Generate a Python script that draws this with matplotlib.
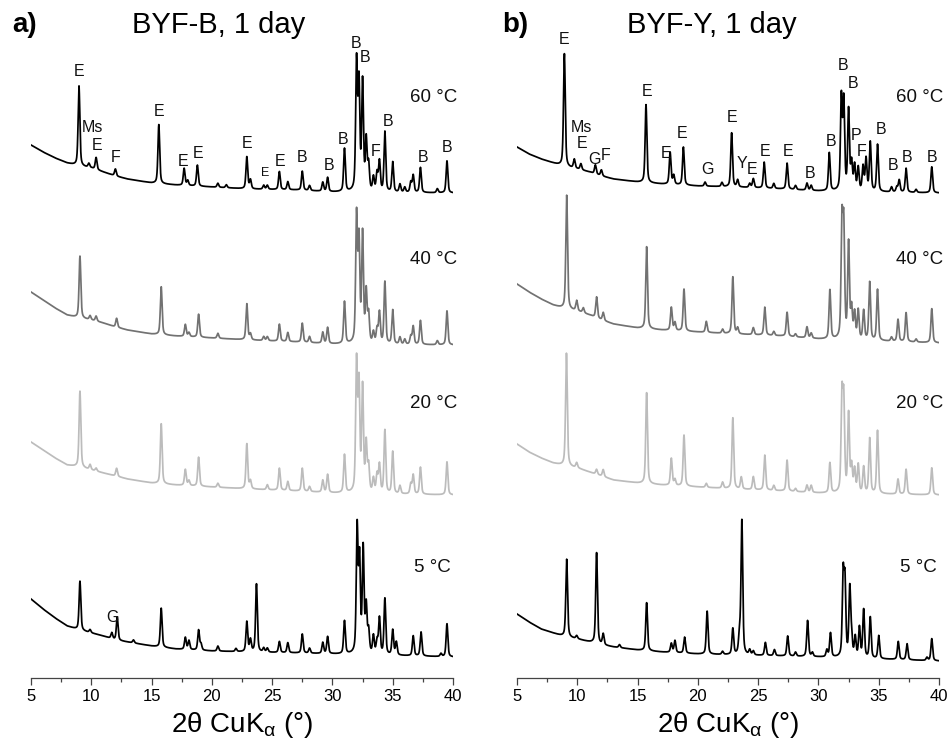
import numpy as np
import matplotlib
matplotlib.use("Agg")
import matplotlib.pyplot as plt
from matplotlib.ticker import MultipleLocator

plt.rcParams['font.family'] = ['Liberation Sans', 'DejaVu Sans']
plt.rcParams['mathtext.fontset'] = 'custom'
plt.rcParams['mathtext.rm'] = 'Liberation Sans'
plt.rcParams['mathtext.it'] = 'Liberation Sans:italic'

# ---------------- data ----------------
BG_X = [5, 6, 7, 8, 9, 10, 11, 12, 13, 15, 17, 20, 23, 27, 30, 40]

# Panel a) BYF-B
A60_BG = [48, 41, 35, 30, 27, 25, 21, 17, 14, 10, 8, 6, 4, 3, 1, 0]
A60_POS = [8.98, 9.8, 10.4, 12.0, 15.6, 17.7, 18.0, 18.8, 20.5, 21.2, 22.9, 23.2, 24.3, 24.6,
           25.6, 26.3, 27.5, 28.1, 29.2, 29.6, 31.0, 32.0, 32.2, 32.5, 32.8, 33.0, 33.4, 33.7,
           33.9, 34.35, 35.0, 35.6, 36.0, 36.5, 36.7, 37.3, 38.7, 39.5]
A60_AMP = [80, 4, 12, 7, 59, 17, 5, 21, 4, 3, 32, 9, 4, 4,
           18, 8, 19, 5, 9, 14, 43, 128, 105, 108, 50, 26, 14, 18,
           30, 60, 30, 8, 5, 10, 17, 25, 4, 32]

A40_BG = [53, 45, 37, 30, 27, 25, 22, 18, 15, 11, 9, 7, 5, 3, 1, 0]
A40_POS = [9.06, 9.9, 10.4, 12.1, 15.8, 17.8, 18.1, 18.9, 20.5, 22.9, 23.2, 24.3, 24.6,
           25.6, 26.3, 27.5, 28.1, 29.2, 29.6, 31.0, 32.0, 32.2, 32.5, 32.8, 33.0, 33.4, 33.7,
           33.9, 34.35, 35.0, 35.6, 36.0, 36.5, 36.7, 37.3, 38.7, 39.5]
A40_AMP = [62, 4, 5, 9, 48, 12, 4, 23, 5, 36, 6, 4, 4,
           17, 9, 19, 6, 11, 16, 42, 126, 100, 108, 50, 28, 11, 14,
           31, 62, 34, 7, 5, 8, 18, 24, 4, 34]

A20_BG = [53, 45, 37, 30, 28, 25, 22, 19, 16, 12, 10, 8, 6, 4, 2, 0]
A20_POS = [9.06, 9.9, 10.4, 12.1, 15.8, 17.8, 18.1, 18.9, 20.5, 22.9, 23.2, 24.6,
           25.6, 26.3, 27.5, 28.1, 29.2, 29.6, 31.0, 32.0, 32.2, 32.5, 32.8, 33.0, 33.4, 33.7,
           33.9, 34.35, 35.0, 35.6, 36.5, 36.7, 37.3, 39.5]
A20_AMP = [76, 5, 3, 8, 60, 16, 5, 29, 4, 45, 8, 5,
           22, 9, 23, 5, 12, 18, 38, 129, 105, 104, 48, 26, 14, 18,
           28, 63, 42, 8, 10, 19, 27, 33]

A5_BG = [58, 48, 39, 31, 27, 24, 21, 17, 15, 11, 8, 6, 5, 4, 3, 0]
A5_POS = [9.06, 9.9, 11.7, 12.15, 13.5, 15.8, 17.8, 18.1, 18.9, 19.1, 20.5, 22.0, 22.9, 23.2,
          23.7, 24.3, 24.6, 25.6, 26.3, 27.5, 28.1, 29.2, 29.6, 31.0, 32.05, 32.25, 32.55,
          32.8, 33.0, 33.4, 33.7, 33.9, 34.35, 35.0, 35.3, 36.7, 37.35, 39.0, 39.5]
A5_AMP = [49, 3, 6, 23, 3, 39, 12, 9, 20, 6, 5, 3, 30, 12,
          68, 4, 4, 11, 10, 19, 5, 11, 17, 33, 125, 92, 104,
          46, 22, 18, 13, 36, 56, 25, 13, 20, 24, 3, 33]

# Panel b) BYF-Y
B60_BG = [46, 39, 34, 30, 26, 24, 21, 17, 14, 11, 9, 7, 6, 4, 2, 0]
B60_POS = [8.93, 9.75, 10.3, 11.5, 12.0, 15.7, 17.7, 18.0, 18.8, 20.6, 22.0, 22.8, 23.3,
           24.3, 24.6, 25.5, 26.3, 27.4, 28.1, 29.05, 29.4, 30.9, 31.9, 32.1, 32.5, 32.75,
           33.0, 33.3, 33.7, 33.95, 34.3, 34.9, 36.06, 36.5, 36.7, 37.27, 38.1, 39.4]
B60_AMP = [113, 9, 6, 9, 6, 78, 32, 9, 38, 4, 4, 54, 7,
           4, 9, 26, 5, 26, 4, 7, 5, 38, 92, 88, 80, 27,
           25, 23, 24, 32, 49, 47, 5, 5, 12, 24, 3, 26]

B40_BG = [59, 51, 44, 38, 34, 32, 28, 23, 19, 15, 13, 11, 9, 7, 4, 0]
B40_POS = [9.12, 9.95, 10.5, 11.6, 12.15, 15.75, 17.8, 18.1, 18.85, 20.7, 22.05, 22.9, 23.3,
           24.6, 25.55, 26.3, 27.4, 28.1, 29.05, 29.4, 30.95, 31.95, 32.1, 32.5, 32.75, 33.0,
           33.3, 33.75, 34.25, 34.9, 36.06, 36.6, 37.27, 38.1, 39.4]
B40_AMP = [114, 10, 5, 21, 8, 82, 23, 8, 42, 11, 4, 57, 6,
           7, 28, 4, 24, 3, 11, 5, 49, 112, 107, 95, 30, 26,
           29, 29, 58, 51, 4, 22, 29, 3, 34]

B20_BG = [51, 43, 37, 32, 29, 27, 23, 19, 15, 12, 10, 8, 6, 4, 2, 0]
B20_POS = [9.1, 9.95, 11.6, 12.15, 15.75, 17.8, 18.1, 18.85, 20.7, 22.05, 22.9, 23.6, 24.6,
           25.55, 26.3, 27.4, 28.1, 29.05, 29.4, 30.95, 31.95, 32.1, 32.5, 32.75, 33.0, 33.3,
           33.75, 34.25, 34.9, 36.6, 37.27, 39.4]
B20_AMP = [113, 5, 5, 7, 91, 27, 6, 51, 4, 6, 71, 12, 13,
           35, 5, 31, 3, 7, 7, 30, 93, 88, 78, 26, 23, 28,
           26, 55, 63, 15, 25, 27]

B5_BG = [47, 39, 32, 28, 24, 22, 19, 16, 14, 11, 9, 7, 6, 5, 4, 0]
B5_POS = [9.12, 9.95, 11.6, 12.15, 13.5, 15.75, 17.8, 18.1, 18.9, 20.77, 22.05, 22.9, 23.45,
          23.65, 24.3, 24.6, 25.6, 26.35, 27.45, 28.1, 29.1, 29.5, 30.7, 31.0, 32.05, 32.2,
          32.6, 32.75, 33.05, 33.4, 33.75, 34.3, 35.0, 36.62, 37.35, 39.0, 39.4]
B5_AMP = [78, 3, 91, 11, 3, 48, 9, 12, 16, 43, 3, 26, 18,
          134, 5, 4, 13, 6, 20, 4, 36, 4, 7, 24, 80, 72,
          68, 18, 20, 30, 48, 41, 23, 18, 16, 3, 22]

TEMPS = ["60 °C", "40 °C", "20 °C", "5 °C"]
OFFSETS_A = [485, 333, 183, 21]
OFFSETS_B = [485, 335, 183, 17]
COLORS = ["#000000", "#727272", "#bcbcbc", "#000000"]
TEMP_LABEL_Y = [580, 418, 275, 111]
TEMP_LABEL_X = [40.33, 40.33, 40.33, 39.83]

LABELS_A = [(8.98, 607, "E"), (10.06, 550, "Ms"), (10.47, 533, "E"), (12.05, 521, "F"),
            (15.62, 566, "E"), (17.61, 516, "E"), (18.85, 525, "E"), (22.91, 534, "E"),
            (25.65, 517, "E"), (27.48, 521, "B"), (29.72, 512, "B"), (30.88, 538, "B"),
            (31.96, 634, "B"), (32.70, 621, "B"), (33.61, 526, "F"), (34.61, 557, "B"),
            (37.51, 520, "B"), (39.50, 531, "B"), (11.72, 61, "G")]
SMALL_LABELS_A = [(24.41, 505, "E")]
LABELS_B = [(8.90, 639, "E"), (10.31, 551, "Ms"), (10.39, 534, "E"), (11.40, 519, "G"),
            (12.32, 522, "F"), (15.78, 587, "E"), (17.36, 525, "E"), (18.69, 545, "E"),
            (20.76, 509, "G"), (22.83, 560, "E"), (23.66, 514, "Y"), (24.49, 509, "E"),
            (25.57, 527, "E"), (27.48, 526, "E"), (29.30, 505, "B"), (31.04, 536, "B"),
            (32.04, 613, "B"), (32.87, 595, "B"), (33.12, 543, "P"), (33.61, 527, "F"),
            (35.19, 548, "B"), (36.19, 513, "B"), (37.35, 520, "B"), (39.42, 520, "B")]

PANEL_A = [(A60_BG, A60_POS, A60_AMP), (A40_BG, A40_POS, A40_AMP),
           (A20_BG, A20_POS, A20_AMP), (A5_BG, A5_POS, A5_AMP)]
PANEL_B = [(B60_BG, B60_POS, B60_AMP), (B40_BG, B40_POS, B40_AMP),
           (B20_BG, B20_POS, B20_AMP), (B5_BG, B5_POS, B5_AMP)]

# ---------------- drawing ----------------
FWHM = 0.17
ETA = 0.5
tt = np.linspace(5, 40, 3501)


def pattern(bg, pos, amp):
    y = np.interp(tt, BG_X, bg).astype(float)
    hw = FWHM / 2.0
    for p, a in zip(pos, amp):
        d = (tt - p) / hw
        lor = 1.0 / (1.0 + d * d)
        gau = np.exp(-np.log(2) * d * d)
        y += a * (ETA * lor + (1 - ETA) * gau)
    return y


fig = plt.figure(figsize=(9.49, 7.49), dpi=100)
W, H = 949.0, 749.0
ax_a = fig.add_axes([31 / W, (H - 678) / H, 422 / W, 648 / H])
ax_b = fig.add_axes([517 / W, (H - 678) / H, 422 / W, 648 / H])

for ax, panel, offs, labels in [(ax_a, PANEL_A, OFFSETS_A, LABELS_A),
                                (ax_b, PANEL_B, OFFSETS_B, LABELS_B)]:
    for (bg, pos, amp), off, col in zip(panel, offs, COLORS):
        ax.plot(tt, pattern(bg, pos, amp) + off, color=col, lw=1.25)
    for tx, ty, tlab in zip(TEMP_LABEL_X, TEMP_LABEL_Y, TEMPS):
        ax.text(tx, ty, tlab, ha='right', va='center', fontsize=13.5, color='#111111')
    for x, y, s in labels:
        ax.text(x, y, s, ha='center', va='center', fontsize=11.5, color='#111111')
    ax.set_xlim(5, 40)
    ax.set_ylim(0, 648)
    for sp in ['left', 'right', 'top']:
        ax.spines[sp].set_visible(False)
    ax.spines['bottom'].set_color('#444444')
    ax.spines['bottom'].set_linewidth(0.9)
    ax.set_yticks([])
    ax.xaxis.set_major_locator(MultipleLocator(5))
    ax.xaxis.set_minor_locator(MultipleLocator(2.5))
    ax.tick_params(axis='x', which='major', direction='out', length=5, width=0.9,
                   color='#444444', labelsize=12, pad=3)
    ax.tick_params(axis='x', which='minor', direction='out', length=3, width=0.9,
                   color='#444444')
    ax.set_xlabel(r"2θ CuK$_{\mathrm{α}}$ (°)", fontsize=20, labelpad=4)
    ax.patch.set_alpha(0)

for x, y, s in SMALL_LABELS_A:
    ax_a.text(x, y, s, ha='center', va='center', fontsize=9, color='#111111')

fig.text(12 / W, 1 - 25 / H, "a)", fontsize=20, fontweight='bold', ha='left', va='center')
fig.text(219 / W, 1 - 25 / H, "BYF-B, 1 day", fontsize=21, ha='center', va='center')
fig.text(502 / W, 1 - 25 / H, "b)", fontsize=20, fontweight='bold', ha='left', va='center')
fig.text(712 / W, 1 - 25 / H, "BYF-Y, 1 day", fontsize=21, ha='center', va='center')

fig.savefig("out.png", dpi=100)
